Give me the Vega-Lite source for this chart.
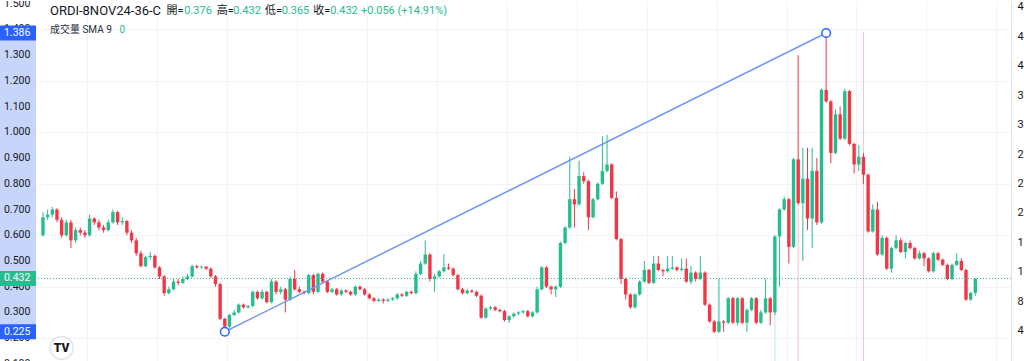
{
  "$schema": "https://vega.github.io/schema/vega-lite/v6.json",
  "padding": 0,
  "spacing": 0,
  "background": "white",
  "config": {"view": {"stroke": null}, "font": "Roboto", "concat": {"spacing": 0}},
  "datasets": {
    "candles": [
      {"i":0,"o":0.60,"h":0.69,"l":0.595,"c":0.67},
      {"i":1,"o":0.67,"h":0.70,"l":0.66,"c":0.68},
      {"i":2,"o":0.68,"h":0.71,"l":0.67,"c":0.70},
      {"i":3,"o":0.70,"h":0.705,"l":0.65,"c":0.66},
      {"i":4,"o":0.66,"h":0.67,"l":0.59,"c":0.60},
      {"i":5,"o":0.60,"h":0.66,"l":0.595,"c":0.65},
      {"i":6,"o":0.65,"h":0.66,"l":0.55,"c":0.58},
      {"i":7,"o":0.58,"h":0.63,"l":0.57,"c":0.62},
      {"i":8,"o":0.62,"h":0.63,"l":0.60,"c":0.61},
      {"i":9,"o":0.61,"h":0.62,"l":0.59,"c":0.60},
      {"i":10,"o":0.60,"h":0.68,"l":0.595,"c":0.665},
      {"i":11,"o":0.665,"h":0.67,"l":0.64,"c":0.65},
      {"i":12,"o":0.65,"h":0.66,"l":0.62,"c":0.63},
      {"i":13,"o":0.63,"h":0.64,"l":0.61,"c":0.62},
      {"i":14,"o":0.62,"h":0.66,"l":0.615,"c":0.65},
      {"i":15,"o":0.65,"h":0.70,"l":0.645,"c":0.69},
      {"i":16,"o":0.69,"h":0.695,"l":0.64,"c":0.65},
      {"i":17,"o":0.65,"h":0.67,"l":0.64,"c":0.655},
      {"i":18,"o":0.655,"h":0.66,"l":0.60,"c":0.61},
      {"i":19,"o":0.61,"h":0.62,"l":0.57,"c":0.58},
      {"i":20,"o":0.58,"h":0.59,"l":0.52,"c":0.53},
      {"i":21,"o":0.53,"h":0.54,"l":0.475,"c":0.48},
      {"i":22,"o":0.48,"h":0.52,"l":0.475,"c":0.515},
      {"i":23,"o":0.515,"h":0.535,"l":0.505,"c":0.52},
      {"i":24,"o":0.52,"h":0.525,"l":0.47,"c":0.475},
      {"i":25,"o":0.475,"h":0.48,"l":0.43,"c":0.44},
      {"i":26,"o":0.44,"h":0.445,"l":0.365,"c":0.375},
      {"i":27,"o":0.375,"h":0.40,"l":0.37,"c":0.39},
      {"i":28,"o":0.39,"h":0.43,"l":0.385,"c":0.42},
      {"i":29,"o":0.42,"h":0.43,"l":0.405,"c":0.415},
      {"i":30,"o":0.415,"h":0.44,"l":0.41,"c":0.43},
      {"i":31,"o":0.43,"h":0.45,"l":0.425,"c":0.44},
      {"i":32,"o":0.44,"h":0.485,"l":0.435,"c":0.48},
      {"i":33,"o":0.48,"h":0.485,"l":0.47,"c":0.475},
      {"i":34,"o":0.475,"h":0.482,"l":0.47,"c":0.478},
      {"i":35,"o":0.478,"h":0.48,"l":0.465,"c":0.47},
      {"i":36,"o":0.47,"h":0.475,"l":0.435,"c":0.44},
      {"i":37,"o":0.44,"h":0.445,"l":0.40,"c":0.41},
      {"i":38,"o":0.41,"h":0.415,"l":0.27,"c":0.275},
      {"i":39,"o":0.275,"h":0.28,"l":0.225,"c":0.245},
      {"i":40,"o":0.245,"h":0.295,"l":0.24,"c":0.29},
      {"i":41,"o":0.29,"h":0.31,"l":0.285,"c":0.30},
      {"i":42,"o":0.30,"h":0.335,"l":0.295,"c":0.33},
      {"i":43,"o":0.33,"h":0.335,"l":0.315,"c":0.32},
      {"i":44,"o":0.32,"h":0.33,"l":0.315,"c":0.325},
      {"i":45,"o":0.325,"h":0.385,"l":0.32,"c":0.38},
      {"i":46,"o":0.38,"h":0.385,"l":0.35,"c":0.355},
      {"i":47,"o":0.355,"h":0.39,"l":0.35,"c":0.38},
      {"i":48,"o":0.38,"h":0.385,"l":0.335,"c":0.34},
      {"i":49,"o":0.34,"h":0.43,"l":0.335,"c":0.42},
      {"i":50,"o":0.42,"h":0.425,"l":0.37,"c":0.38},
      {"i":51,"o":0.38,"h":0.40,"l":0.37,"c":0.39},
      {"i":52,"o":0.39,"h":0.395,"l":0.30,"c":0.35},
      {"i":53,"o":0.35,"h":0.44,"l":0.345,"c":0.43},
      {"i":54,"o":0.43,"h":0.465,"l":0.385,"c":0.39},
      {"i":55,"o":0.39,"h":0.40,"l":0.375,"c":0.38},
      {"i":56,"o":0.38,"h":0.385,"l":0.37,"c":0.375},
      {"i":57,"o":0.375,"h":0.45,"l":0.37,"c":0.445},
      {"i":58,"o":0.445,"h":0.45,"l":0.37,"c":0.38},
      {"i":59,"o":0.38,"h":0.455,"l":0.375,"c":0.45},
      {"i":60,"o":0.45,"h":0.455,"l":0.415,"c":0.42},
      {"i":61,"o":0.42,"h":0.425,"l":0.375,"c":0.38},
      {"i":62,"o":0.38,"h":0.395,"l":0.375,"c":0.39},
      {"i":63,"o":0.39,"h":0.395,"l":0.365,"c":0.37},
      {"i":64,"o":0.37,"h":0.39,"l":0.365,"c":0.385},
      {"i":65,"o":0.385,"h":0.39,"l":0.375,"c":0.38},
      {"i":66,"o":0.38,"h":0.385,"l":0.365,"c":0.37},
      {"i":67,"o":0.37,"h":0.405,"l":0.365,"c":0.40},
      {"i":68,"o":0.40,"h":0.405,"l":0.385,"c":0.39},
      {"i":69,"o":0.39,"h":0.395,"l":0.365,"c":0.37},
      {"i":70,"o":0.37,"h":0.375,"l":0.35,"c":0.355},
      {"i":71,"o":0.355,"h":0.36,"l":0.34,"c":0.345},
      {"i":72,"o":0.345,"h":0.355,"l":0.34,"c":0.35},
      {"i":73,"o":0.35,"h":0.355,"l":0.335,"c":0.345},
      {"i":74,"o":0.345,"h":0.355,"l":0.34,"c":0.35},
      {"i":75,"o":0.35,"h":0.36,"l":0.345,"c":0.355},
      {"i":76,"o":0.355,"h":0.375,"l":0.35,"c":0.37},
      {"i":77,"o":0.37,"h":0.375,"l":0.36,"c":0.365},
      {"i":78,"o":0.365,"h":0.385,"l":0.36,"c":0.38},
      {"i":79,"o":0.38,"h":0.385,"l":0.37,"c":0.375},
      {"i":80,"o":0.375,"h":0.46,"l":0.37,"c":0.45},
      {"i":81,"o":0.45,"h":0.50,"l":0.445,"c":0.49},
      {"i":82,"o":0.49,"h":0.58,"l":0.485,"c":0.525},
      {"i":83,"o":0.525,"h":0.53,"l":0.42,"c":0.43},
      {"i":84,"o":0.43,"h":0.45,"l":0.38,"c":0.44},
      {"i":85,"o":0.44,"h":0.465,"l":0.435,"c":0.46},
      {"i":86,"o":0.46,"h":0.527,"l":0.455,"c":0.475},
      {"i":87,"o":0.475,"h":0.49,"l":0.465,"c":0.47},
      {"i":88,"o":0.47,"h":0.475,"l":0.44,"c":0.445},
      {"i":89,"o":0.445,"h":0.45,"l":0.385,"c":0.39},
      {"i":90,"o":0.39,"h":0.395,"l":0.37,"c":0.375},
      {"i":91,"o":0.375,"h":0.39,"l":0.37,"c":0.385},
      {"i":92,"o":0.385,"h":0.39,"l":0.375,"c":0.38},
      {"i":93,"o":0.38,"h":0.385,"l":0.36,"c":0.365},
      {"i":94,"o":0.365,"h":0.37,"l":0.275,"c":0.28},
      {"i":95,"o":0.28,"h":0.32,"l":0.275,"c":0.315},
      {"i":96,"o":0.315,"h":0.325,"l":0.31,"c":0.32},
      {"i":97,"o":0.32,"h":0.325,"l":0.305,"c":0.31},
      {"i":98,"o":0.31,"h":0.315,"l":0.30,"c":0.305},
      {"i":99,"o":0.305,"h":0.31,"l":0.265,"c":0.27},
      {"i":100,"o":0.27,"h":0.29,"l":0.26,"c":0.285},
      {"i":101,"o":0.285,"h":0.30,"l":0.28,"c":0.295},
      {"i":102,"o":0.295,"h":0.305,"l":0.29,"c":0.30},
      {"i":103,"o":0.30,"h":0.31,"l":0.295,"c":0.305},
      {"i":104,"o":0.305,"h":0.31,"l":0.28,"c":0.285},
      {"i":105,"o":0.285,"h":0.305,"l":0.28,"c":0.30},
      {"i":106,"o":0.30,"h":0.40,"l":0.295,"c":0.39},
      {"i":107,"o":0.39,"h":0.48,"l":0.385,"c":0.475},
      {"i":108,"o":0.475,"h":0.48,"l":0.395,"c":0.40},
      {"i":109,"o":0.40,"h":0.405,"l":0.37,"c":0.39},
      {"i":110,"o":0.39,"h":0.405,"l":0.36,"c":0.40},
      {"i":111,"o":0.40,"h":0.575,"l":0.395,"c":0.57},
      {"i":112,"o":0.57,"h":0.635,"l":0.565,"c":0.63},
      {"i":113,"o":0.63,"h":0.905,"l":0.625,"c":0.74},
      {"i":114,"o":0.74,"h":0.78,"l":0.63,"c":0.72},
      {"i":115,"o":0.72,"h":0.89,"l":0.715,"c":0.83},
      {"i":116,"o":0.83,"h":0.845,"l":0.80,"c":0.81},
      {"i":117,"o":0.81,"h":0.815,"l":0.62,"c":0.67},
      {"i":118,"o":0.67,"h":0.745,"l":0.665,"c":0.74},
      {"i":119,"o":0.74,"h":0.805,"l":0.735,"c":0.80},
      {"i":120,"o":0.80,"h":0.985,"l":0.795,"c":0.85},
      {"i":121,"o":0.85,"h":0.99,"l":0.845,"c":0.875},
      {"i":122,"o":0.875,"h":0.88,"l":0.74,"c":0.745},
      {"i":123,"o":0.745,"h":0.77,"l":0.58,"c":0.585},
      {"i":124,"o":0.585,"h":0.59,"l":0.41,"c":0.43},
      {"i":125,"o":0.43,"h":0.435,"l":0.35,"c":0.37},
      {"i":126,"o":0.37,"h":0.375,"l":0.315,"c":0.32},
      {"i":127,"o":0.32,"h":0.375,"l":0.315,"c":0.37},
      {"i":128,"o":0.37,"h":0.425,"l":0.365,"c":0.42},
      {"i":129,"o":0.42,"h":0.50,"l":0.415,"c":0.465},
      {"i":130,"o":0.465,"h":0.47,"l":0.41,"c":0.415},
      {"i":131,"o":0.415,"h":0.52,"l":0.41,"c":0.49},
      {"i":132,"o":0.49,"h":0.52,"l":0.46,"c":0.465},
      {"i":133,"o":0.465,"h":0.47,"l":0.44,"c":0.46},
      {"i":134,"o":0.46,"h":0.52,"l":0.455,"c":0.47},
      {"i":135,"o":0.47,"h":0.52,"l":0.465,"c":0.475},
      {"i":136,"o":0.475,"h":0.48,"l":0.46,"c":0.465},
      {"i":137,"o":0.465,"h":0.51,"l":0.46,"c":0.47},
      {"i":138,"o":0.47,"h":0.51,"l":0.415,"c":0.42},
      {"i":139,"o":0.42,"h":0.48,"l":0.41,"c":0.455},
      {"i":140,"o":0.455,"h":0.46,"l":0.42,"c":0.43},
      {"i":141,"o":0.43,"h":0.52,"l":0.425,"c":0.455},
      {"i":142,"o":0.455,"h":0.46,"l":0.325,"c":0.33},
      {"i":143,"o":0.33,"h":0.335,"l":0.26,"c":0.265},
      {"i":144,"o":0.265,"h":0.27,"l":0.22,"c":0.225},
      {"i":145,"o":0.225,"h":0.43,"l":0.22,"c":0.265},
      {"i":146,"o":0.265,"h":0.27,"l":0.225,"c":0.26},
      {"i":147,"o":0.26,"h":0.36,"l":0.255,"c":0.355},
      {"i":148,"o":0.355,"h":0.36,"l":0.255,"c":0.26},
      {"i":149,"o":0.26,"h":0.36,"l":0.25,"c":0.355},
      {"i":150,"o":0.355,"h":0.36,"l":0.255,"c":0.26},
      {"i":151,"o":0.26,"h":0.315,"l":0.225,"c":0.31},
      {"i":152,"o":0.31,"h":0.36,"l":0.305,"c":0.355},
      {"i":153,"o":0.355,"h":0.36,"l":0.255,"c":0.26},
      {"i":154,"o":0.26,"h":0.31,"l":0.255,"c":0.30},
      {"i":155,"o":0.30,"h":0.43,"l":0.295,"c":0.355},
      {"i":156,"o":0.355,"h":0.36,"l":0.25,"c":0.30},
      {"i":157,"o":0.30,"h":0.60,"l":0.29,"c":0.595},
      {"i":158,"o":0.595,"h":0.705,"l":0.40,"c":0.70},
      {"i":159,"o":0.70,"h":0.75,"l":0.695,"c":0.74},
      {"i":160,"o":0.74,"h":0.745,"l":0.49,"c":0.555},
      {"i":161,"o":0.555,"h":0.90,"l":0.55,"c":0.895},
      {"i":162,"o":0.895,"h":1.30,"l":0.72,"c":0.725},
      {"i":163,"o":0.725,"h":0.94,"l":0.50,"c":0.82},
      {"i":164,"o":0.82,"h":0.94,"l":0.62,"c":0.665},
      {"i":165,"o":0.665,"h":0.94,"l":0.55,"c":0.85},
      {"i":166,"o":0.85,"h":0.90,"l":0.64,"c":0.65},
      {"i":167,"o":0.65,"h":1.17,"l":0.645,"c":1.165},
      {"i":168,"o":1.165,"h":1.386,"l":1.115,"c":1.12},
      {"i":169,"o":1.12,"h":1.125,"l":0.88,"c":0.92},
      {"i":170,"o":0.92,"h":1.09,"l":0.915,"c":1.07},
      {"i":171,"o":1.07,"h":1.10,"l":0.97,"c":0.975},
      {"i":172,"o":0.975,"h":1.17,"l":0.97,"c":1.16},
      {"i":173,"o":1.16,"h":1.165,"l":0.95,"c":0.955},
      {"i":174,"o":0.955,"h":0.96,"l":0.84,"c":0.875},
      {"i":175,"o":0.875,"h":0.95,"l":0.85,"c":0.905},
      {"i":176,"o":0.905,"h":0.92,"l":0.80,"c":0.835},
      {"i":177,"o":0.835,"h":0.84,"l":0.61,"c":0.615},
      {"i":178,"o":0.615,"h":0.72,"l":0.61,"c":0.70},
      {"i":179,"o":0.70,"h":0.73,"l":0.52,"c":0.525},
      {"i":180,"o":0.525,"h":0.60,"l":0.52,"c":0.59},
      {"i":181,"o":0.59,"h":0.595,"l":0.465,"c":0.47},
      {"i":182,"o":0.47,"h":0.555,"l":0.455,"c":0.55},
      {"i":183,"o":0.55,"h":0.60,"l":0.545,"c":0.58},
      {"i":184,"o":0.58,"h":0.59,"l":0.53,"c":0.535},
      {"i":185,"o":0.535,"h":0.575,"l":0.51,"c":0.57},
      {"i":186,"o":0.57,"h":0.58,"l":0.545,"c":0.55},
      {"i":187,"o":0.55,"h":0.555,"l":0.505,"c":0.51},
      {"i":188,"o":0.51,"h":0.54,"l":0.505,"c":0.53},
      {"i":189,"o":0.53,"h":0.535,"l":0.48,"c":0.51},
      {"i":190,"o":0.51,"h":0.515,"l":0.455,"c":0.46},
      {"i":191,"o":0.46,"h":0.535,"l":0.455,"c":0.53},
      {"i":192,"o":0.53,"h":0.535,"l":0.50,"c":0.505},
      {"i":193,"o":0.505,"h":0.51,"l":0.48,"c":0.485},
      {"i":194,"o":0.485,"h":0.49,"l":0.425,"c":0.43},
      {"i":195,"o":0.43,"h":0.49,"l":0.425,"c":0.485},
      {"i":196,"o":0.485,"h":0.53,"l":0.48,"c":0.50},
      {"i":197,"o":0.50,"h":0.51,"l":0.46,"c":0.465},
      {"i":198,"o":0.465,"h":0.47,"l":0.345,"c":0.35},
      {"i":199,"o":0.35,"h":0.38,"l":0.345,"c":0.376},
      {"i":200,"o":0.376,"h":0.432,"l":0.365,"c":0.432}
    ],
    "spikes": [
      {"i":157,"lo":0.10,"hi":0.30,"up":1},
      {"i":162,"lo":0.10,"hi":0.725,"up":0},
      {"i":176,"lo":0.10,"hi":1.39,"up":0}
    ],
    "trend": [{"i":39,"p":0.225},{"i":168,"p":1.386}],
    "ticks": [{"p":0.1},{"p":0.2},{"p":0.3},{"p":0.4},{"p":0.5},{"p":0.6},{"p":0.7},{"p":0.8},{"p":0.9},{"p":1.0},{"p":1.1},{"p":1.2},{"p":1.3},{"p":1.4},{"p":1.5}],
    "marks": [{"p":1.386,"k":"hi"},{"p":0.225,"k":"lo"},{"p":0.432,"k":"last"}],
    "band": [{"lo":0.225,"hi":1.386}],
    "header": [
      {"t":"ORDI-8NOV24-36-C","i":1.49,"p":1.4715,"g":"title"},
      {"t":"開=","i":26.5,"p":1.4715,"g":"k"},
      {"t":"0.376","i":30.3,"p":1.4715,"g":"v"},
      {"t":"高=","i":37.3,"p":1.4715,"g":"k"},
      {"t":"0.432","i":40.8,"p":1.4715,"g":"v"},
      {"t":"低=","i":47.6,"p":1.4715,"g":"k"},
      {"t":"0.365","i":51.2,"p":1.4715,"g":"v"},
      {"t":"收=","i":58.0,"p":1.4715,"g":"k"},
      {"t":"0.432","i":61.6,"p":1.4715,"g":"v"},
      {"t":"+0.056 (+14.91%)","i":68.2,"p":1.4715,"g":"v"},
      {"t":"成交量 SMA 9","i":1.49,"p":1.398,"g":"k2"},
      {"t":"0","i":16.4,"p":1.398,"g":"v2"}
    ],
    "logo": [{"i":4.0,"p":0.162,"t":"TV"}],
    "vol": [{"v":0},{"v":48}]
  },
  "hconcat": [
    {
      "width": 36,
      "height": 361,
      "layer": [
        {
          "data": {"name": "band"},
          "mark": {"type": "rect", "color": "#c8d5fa", "clip": true},
          "encoding": {
            "x": {"datum": 0, "type": "quantitative", "scale": {"domain": [0, 1], "nice": false, "zero": false}, "axis": null},
            "x2": {"datum": 1},
            "y": {"field": "lo", "type": "quantitative", "scale": {"domain": [0.1074, 1.5104], "nice": false, "zero": false}, "axis": null},
            "y2": {"field": "hi"}
          }
        },
        {
          "data": {"name": "ticks"},
          "mark": {"type": "text", "align": "left", "baseline": "middle", "fontSize": 10.5, "color": "#131722", "clip": true},
          "encoding": {
            "x": {"datum": 0.11, "type": "quantitative"},
            "y": {"field": "p", "type": "quantitative"},
            "text": {"field": "p", "type": "quantitative", "format": ".3f"}
          }
        },
        {
          "data": {"name": "marks"},
          "mark": {"type": "point", "shape": "M-1,-0.4167H1V0.4167H-1Z", "size": 1296, "filled": true, "opacity": 1, "strokeWidth": 0},
          "encoding": {
            "x": {"datum": 0.5, "type": "quantitative"},
            "y": {"field": "p", "type": "quantitative"},
            "color": {"field": "k", "type": "nominal", "scale": {"domain": ["hi", "lo", "last"], "range": ["#2962ff", "#2962ff", "#26bd8e"]}, "legend": null}
          }
        },
        {
          "data": {"name": "marks"},
          "mark": {"type": "text", "align": "left", "baseline": "middle", "fontSize": 10.5, "color": "white"},
          "encoding": {
            "x": {"datum": 0.11, "type": "quantitative"},
            "y": {"field": "p", "type": "quantitative"},
            "text": {"field": "p", "type": "quantitative", "format": ".3f"}
          }
        }
      ]
    },
    {
      "width": 974,
      "height": 361,
      "layer": [
        {
          "layer": [
            {
              "data": {"name": "spikes"},
              "mark": {"type": "rule", "opacity": 0.3, "clip": true, "strokeWidth": 1},
              "encoding": {
                "x": {"field": "i", "type": "quantitative", "title": null,
                  "scale": {"domain": [-0.212, 206.58], "nice": false, "zero": false},
                  "axis": {"values": [9.5, 24.5, 39.5, 54.5, 69.5, 84.5, 99.5, 114.5, 129.5, 144.5, 159.5, 174.5, 189.5, 204.5], "grid": true, "labels": false, "ticks": false, "domain": false, "title": null, "gridColor": "#f0f3fa", "minExtent": 0, "maxExtent": 0}},
                "y": {"field": "lo", "type": "quantitative", "title": null,
                  "scale": {"domain": [0.1074, 1.5104], "nice": false, "zero": false},
                  "axis": {"values": [0.1, 0.2, 0.3, 0.4, 0.5, 0.6, 0.7, 0.8, 0.9, 1.0, 1.1, 1.2, 1.3, 1.4, 1.5], "grid": true, "labels": false, "ticks": false, "domain": false, "title": null, "gridColor": "#f0f3fa", "minExtent": 0, "maxExtent": 0}},
                "y2": {"field": "hi"},
                "color": {"condition": {"test": "datum.up == 1", "value": "#26bd8e"}, "value": "#f23645"}
              }
            },
            {
              "data": {"name": "candles"},
              "mark": {"type": "rule", "clip": true, "strokeWidth": 1},
              "encoding": {
                "x": {"field": "i", "type": "quantitative"},
                "y": {"field": "l", "type": "quantitative"},
                "y2": {"field": "h"},
                "color": {"condition": {"test": "datum.c >= datum.o", "value": "#26bd8e"}, "value": "#f23645"}
              }
            },
            {
              "data": {"name": "candles"},
              "mark": {"type": "bar", "size": 3.4, "clip": true},
              "encoding": {
                "x": {"field": "i", "type": "quantitative"},
                "y": {"field": "o", "type": "quantitative"},
                "y2": {"field": "c"},
                "color": {"condition": {"test": "datum.c >= datum.o", "value": "#26bd8e"}, "value": "#f23645"}
              }
            },
            {
              "data": {"name": "marks"},
              "transform": [{"filter": "datum.k == 'last'"}],
              "mark": {"type": "rule", "strokeDash": [1, 2], "color": "#26bd8e", "strokeWidth": 1},
              "encoding": {
                "y": {"field": "p", "type": "quantitative"}
              }
            },
            {
              "data": {"name": "trend"},
              "mark": {"type": "line", "color": "#7095f8", "strokeWidth": 1.5},
              "encoding": {
                "x": {"field": "i", "type": "quantitative"},
                "y": {"field": "p", "type": "quantitative"}
              }
            },
            {
              "data": {"name": "trend"},
              "mark": {"type": "point", "filled": true, "fill": "white", "stroke": "#2962ff", "strokeWidth": 1.5, "size": 75, "opacity": 1},
              "encoding": {
                "x": {"field": "i", "type": "quantitative"},
                "y": {"field": "p", "type": "quantitative"}
              }
            },
            {
              "data": {"name": "header"},
              "transform": [{"filter": "datum.g == 'title'"}],
              "mark": {"type": "text", "align": "left", "baseline": "middle", "fontSize": 13, "color": "#131722", "font": "Roboto"},
              "encoding": {
                "x": {"field": "i", "type": "quantitative"},
                "y": {"field": "p", "type": "quantitative"},
                "text": {"field": "t"}
              }
            },
            {
              "data": {"name": "header"},
              "transform": [{"filter": "datum.g == 'k' || datum.g == 'v'"}],
              "mark": {"type": "text", "align": "left", "baseline": "middle", "fontSize": 11, "font": "Roboto, Noto Sans CJK TC"},
              "encoding": {
                "x": {"field": "i", "type": "quantitative"},
                "y": {"field": "p", "type": "quantitative"},
                "text": {"field": "t"},
                "color": {"condition": {"test": "datum.g == 'v'", "value": "#26bd8e"}, "value": "#131722"}
              }
            },
            {
              "data": {"name": "header"},
              "transform": [{"filter": "datum.g == 'k2' || datum.g == 'v2'"}],
              "mark": {"type": "text", "align": "left", "baseline": "middle", "fontSize": 10, "font": "Roboto, Noto Sans CJK TC"},
              "encoding": {
                "x": {"field": "i", "type": "quantitative"},
                "y": {"field": "p", "type": "quantitative"},
                "text": {"field": "t"},
                "color": {"condition": {"test": "datum.g == 'v2'", "value": "#26bd8e"}, "value": "#2a2e39"}
              }
            },
            {
              "data": {"name": "logo"},
              "mark": {"type": "point", "filled": true, "fill": "white", "stroke": "#e0e3eb", "strokeWidth": 1.5, "size": 530, "opacity": 1, "clip": true},
              "encoding": {
                "x": {"field": "i", "type": "quantitative"},
                "y": {"field": "p", "type": "quantitative"}
              }
            },
            {
              "data": {"name": "logo"},
              "mark": {"type": "text", "align": "center", "baseline": "middle", "fontSize": 12, "fontWeight": 900, "color": "#131722"},
              "encoding": {
                "x": {"field": "i", "type": "quantitative"},
                "y": {"field": "p", "type": "quantitative"},
                "text": {"field": "t"}
              }
            }
          ]
        },
        {
          "data": {"name": "vol"},
          "mark": {"type": "point", "opacity": 0},
          "encoding": {
            "y": {"field": "v", "type": "quantitative", "title": null,
              "scale": {"domain": [-0.27, 48.8], "nice": false, "zero": false},
              "axis": {"orient": "right", "values": [4, 8, 12, 16, 20, 24, 28, 32, 36, 40, 44, 48], "labelExpr": "substring(datum.label, 0, 1)", "grid": false, "ticks": false, "domain": true, "domainColor": "#e0e3eb", "labelPadding": 6, "labelFontSize": 11, "labelColor": "#131722", "title": null}}
          }
        }
      ],
      "resolve": {"scale": {"y": "independent"}}
    }
  ]
}
